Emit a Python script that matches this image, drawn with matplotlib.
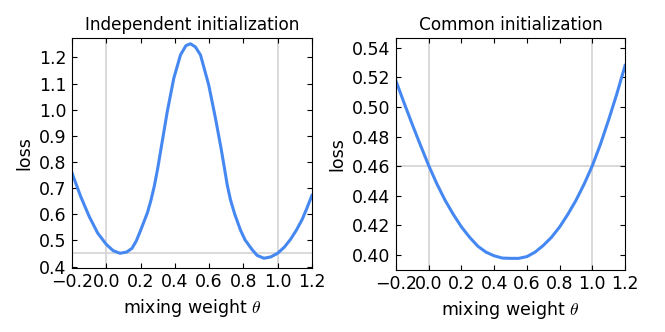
import numpy as np
import matplotlib
matplotlib.use("Agg")
import matplotlib.pyplot as plt

# mixing weight / loss values
theta_ind = [-0.2, -0.15, -0.1, -0.05, 0.0, 0.04, 0.08, 0.12, 0.15, 0.175,
             0.2, 0.24, 0.26, 0.28, 0.30, 0.32, 0.356, 0.394, 0.433, 0.465,
             0.491, 0.52, 0.55, 0.598, 0.637, 0.67, 0.69, 0.706, 0.725, 0.75,
             0.783, 0.81, 0.85, 0.88, 0.92, 0.96, 1.0, 1.04, 1.075, 1.11,
             1.143, 1.17, 1.2]
loss_ind = [0.758, 0.669, 0.592, 0.528, 0.485, 0.461, 0.451, 0.456, 0.470,
            0.498, 0.538, 0.606, 0.652, 0.707, 0.775, 0.853, 0.993, 1.120,
            1.209, 1.245, 1.252, 1.240, 1.209, 1.094, 0.968, 0.852, 0.775,
            0.712, 0.655, 0.600, 0.540, 0.502, 0.466, 0.443, 0.432, 0.437,
            0.451, 0.475, 0.504, 0.540, 0.580, 0.622, 0.672]

theta_com = [-0.2, -0.15, -0.1, -0.05, 0.0, 0.05, 0.1, 0.15, 0.2, 0.25, 0.3,
             0.35, 0.4, 0.45, 0.5, 0.55, 0.6, 0.65, 0.7, 0.75, 0.8, 0.85,
             0.9, 0.95, 1.0, 1.05, 1.1, 1.15, 1.2]
loss_com = [0.5175, 0.5025, 0.488, 0.474, 0.4604, 0.448, 0.437, 0.4275,
            0.419, 0.412, 0.406, 0.402, 0.3995, 0.398, 0.3978, 0.3978, 0.399,
            0.402, 0.4065, 0.412, 0.419, 0.4275, 0.437, 0.448, 0.4604, 0.475,
            0.4915, 0.509, 0.528]

ref_ind = 0.452
ref_com = 0.4604

xticks = [-0.2, 0.0, 0.2, 0.4, 0.6, 0.8, 1.0, 1.2]
xticklabels = ["\u22120.2", "0.0", "0.2", "0.4", "0.6", "0.8", "1.0", "1.2"]

plt.rcParams.update({
    "xtick.direction": "in", "ytick.direction": "in",
    "xtick.top": True, "ytick.right": True,
    "xtick.major.size": 3.5, "ytick.major.size": 3.5,
    "xtick.labelsize": 12.5, "ytick.labelsize": 12.5,
    "axes.titlesize": 12.2, "axes.labelsize": 12.5,
    "xtick.major.pad": 4, "ytick.major.pad": 4,
    "mathtext.fontset": "cm",
})

fig = plt.figure(figsize=(6.65, 3.32), dpi=100)
ax1 = fig.add_axes([0.1083, 0.193, 0.3607, 0.6925])
ax2 = fig.add_axes([0.5955, 0.187, 0.3445, 0.6985])

blue = "#4688F1"
grey = "#d3d3d3"

panels = [
    (ax1, theta_ind, loss_ind, ref_ind, "Independent initialization", (0.395, 1.274), np.arange(0.4, 1.21, 0.1), "%.1f"),
    (ax2, theta_com, loss_com, ref_com, "Common initialization", (0.39, 0.5465), np.arange(0.40, 0.541, 0.02), "%.2f"),
]
for ax, th, ls, ref, title, ylim, yt, fmt in panels:
    ax.axvline(0, color=grey, lw=1.2, zorder=1)
    ax.axvline(1, color=grey, lw=1.2, zorder=1)
    ax.axhline(ref, color=grey, lw=1.2, zorder=1)
    ax.plot(th, ls, color=blue, lw=2.2, zorder=2, solid_joinstyle="round")
    ax.set_xlim(-0.2, 1.2)
    ax.set_ylim(*ylim)
    ax.set_xticks(xticks)
    ax.set_xticklabels(xticklabels)
    ax.set_yticks(yt)
    ax.set_yticklabels([fmt % v for v in yt])
    ax.set_title(title, pad=6)
    ax.set_xlabel(r"mixing weight $\theta$")
    ax.set_ylabel("loss", labelpad=4)

fig.savefig("out.png", dpi=100)
